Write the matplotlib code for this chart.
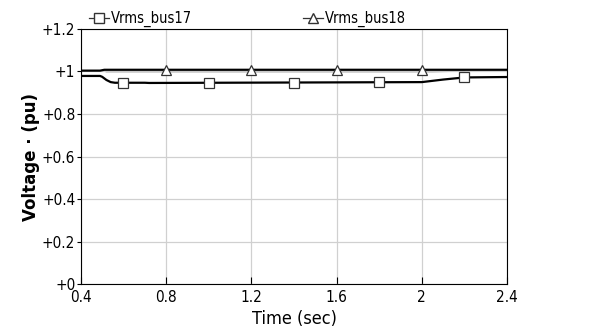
import numpy as np
import matplotlib.pyplot as plt
from matplotlib.ticker import FuncFormatter

plt.rcParams['font.family'] = ['DejaVu Sans']
plt.rcParams['font.stretch'] = 'condensed'

# Dane
bus17_t = [0.4, 0.49, 0.50, 0.52, 0.54, 0.56, 0.70, 0.72, 2.00, 2.10, 2.20, 2.4]
bus17_v = [0.979, 0.979, 0.975, 0.960, 0.950, 0.947, 0.947, 0.946, 0.950, 0.962, 0.972, 0.974]
bus18_t = [0.4, 0.49, 0.51, 2.4]
bus18_v = [1.004, 1.004, 1.008, 1.008]
band_t = [0.52, 2.05, 2.2]
band_v = [0.998, 0.998, 1.004]

sq_t = [0.6, 1.0, 1.4, 1.8, 2.2]
tri_t = [0.8, 1.2, 1.6, 2.0]

xticks = [0.4, 0.8, 1.2, 1.6, 2.0, 2.4]
yticks = [0, 0.2, 0.4, 0.6, 0.8, 1.0, 1.2]

fig = plt.figure(figsize=(6.08, 3.33), dpi=100)
ax = fig.add_axes([0.133, 0.147, 0.701, 0.766])

ax.plot(band_t, band_v, color='#c8c8c8', lw=1.2)
ax.plot(bus17_t, bus17_v, 'k-', lw=1.6)
ax.plot(bus18_t, bus18_v, 'k-', lw=1.6)

ax.plot(sq_t, np.interp(sq_t, bus17_t, bus17_v), 's', ms=7.5,
        mfc='white', mec='#333333', mew=0.9)
ax.plot(tri_t, np.interp(tri_t, bus18_t, bus18_v), '^', ms=7.5,
        mfc='white', mec='#333333', mew=0.9)

# Legenda (linia + marker)
h1, = ax.plot([], [], 's-', color='#333333', mfc='white', ms=7, lw=0.9)
h2, = ax.plot([], [], '^-', color='#333333', mfc='white', ms=7, lw=0.9)
ax.legend([h1, h2], ['Vrms_bus17', 'Vrms_bus18'], ncol=2, frameon=False,
          loc='lower left', bbox_to_anchor=(0.005, 0.985), borderaxespad=0,
          handlelength=1.4, handletextpad=0.1, columnspacing=7.6, fontsize=10.5)

ax.set_xlim(0.4, 2.4)
ax.set_ylim(0, 1.2)
ax.set_xticks(xticks)
ax.set_yticks(yticks)
ax.xaxis.set_major_formatter(FuncFormatter(lambda v, p: f"{v:g}"))
ax.yaxis.set_major_formatter(FuncFormatter(lambda v, p: f"+{v:g}"))
ax.tick_params(axis='x', direction='in', length=5, labelsize=11, pad=4)
ax.tick_params(axis='y', direction='out', length=3, labelsize=11, pad=1)
ax.grid(color='#d0d0d0', lw=0.9)
for s in ax.spines.values():
    s.set_linewidth(0.8)

ax.set_xlabel("Time (sec)", fontsize=13, labelpad=4)
ax.set_ylabel("Voltage · (pu)", fontsize=12, fontweight='bold',
              stretch='normal', labelpad=1)

fig.savefig("out.png", dpi=100)
